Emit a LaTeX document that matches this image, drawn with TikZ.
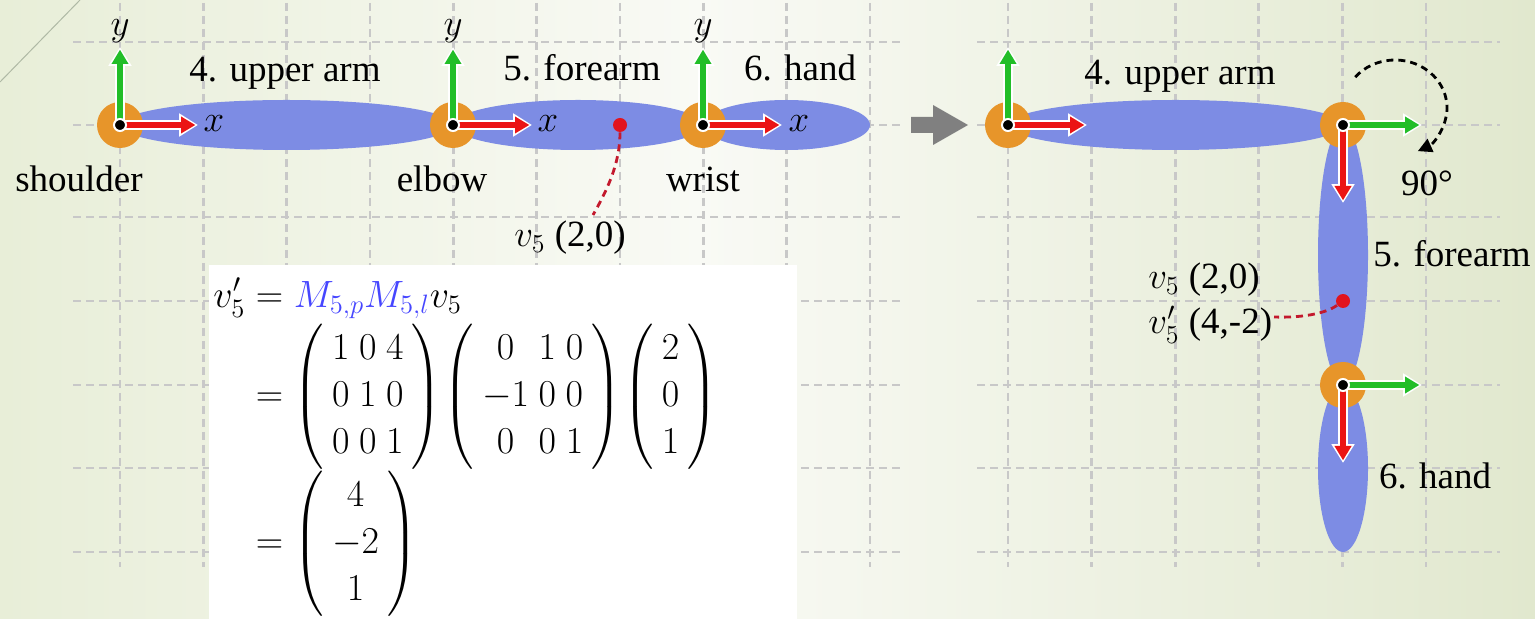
\RequirePackage{fix-cm}
\documentclass[tikz,border=0pt]{standalone}
\usepackage{amsmath}
\usepackage[no-math]{fontspec}
\setmainfont{Liberation Serif}
\usetikzlibrary{arrows.meta,shapes.geometric}
\definecolor{limbcol}{RGB}{125,140,228}
\definecolor{jointcol}{RGB}{231,149,42}
\definecolor{axred}{RGB}{235,20,20}
\definecolor{axgreen}{RGB}{34,190,40}
\definecolor{ptred}{RGB}{225,20,30}
\definecolor{leadred}{RGB}{195,25,45}
\definecolor{gridgray}{RGB}{200,200,200}
\definecolor{mblue}{RGB}{70,70,255}
\definecolor{bgl}{RGB}{232,238,216}
\definecolor{bgm}{RGB}{249,250,245}
\definecolor{bgr}{RGB}{225,232,206}
\definecolor{diag}{RGB}{175,185,165}
\newcommand\axarrow[3]{%
  \draw[line width=4.6pt, white, -{Triangle[length=9.4pt,width=11pt]}] (#2) -- (#3);
  \draw[line width=2.8pt, #1, -{Triangle[length=7.2pt,width=8pt]}, shorten >=1.3pt] (#2) -- (#3);}
\newcommand\pmx[1]{\left(\hspace{4pt}\begin{matrix}#1\end{matrix}\hspace{4pt}\right)}
\tikzset{
  gridline/.style={gridgray, line width=1.4pt, dash pattern=on 4pt off 2.5pt},
  limb/.style={ellipse, fill=limbcol, inner sep=0pt, draw=none},
  jointc/.style={circle, fill=jointcol, minimum size=23pt, inner sep=0pt},
  blackdot/.style={circle, fill=black, draw=white, line width=1pt, minimum size=6pt, inner sep=0pt},
  ptdot/.style={circle, fill=ptred, minimum size=7pt, inner sep=0pt},
  leader/.style={leadred, line width=1.4pt, dash pattern=on 3.5pt off 2.5pt},
  txt/.style={font=\fontsize{18.5}{22}\selectfont, inner sep=0pt},
  rot/.style={black, line width=1.4pt, dash pattern=on 3.5pt off 2.5pt, -{Triangle[length=7pt,width=7pt]}}
}
\begin{document}
\begin{tikzpicture}[x=0.5pt,y=-0.5pt]
\useasboundingbox (0,0) rectangle (1535,619);
% background
\shade[left color=bgl, right color=bgm] (0,0) rectangle (700,619);
\shade[left color=bgm, right color=bgr] (700,0) rectangle (1535,619);
\draw[diag, line width=0.5pt] (0,82) -- (80,0);
% grids
\foreach \i in {0,...,9} \draw[gridline] ({120+83.33*\i},3) -- ({120+83.33*\i},567);
\foreach \y in {42,125,217,301,385,468,552} \draw[gridline] (73,\y) -- (903,\y);
\foreach \i in {0,...,5} \draw[gridline] ({1008+83.6*\i},3) -- ({1008+83.6*\i},567);
\foreach \y in {42,125,217,301,385,468,552} \draw[gridline] (977,\y) -- (1500,\y);
% formula box
\fill[white] (209,265) rectangle (797,619);
% left arm
\node[limb, minimum width=167pt, minimum height=25pt] (ua) at (286.5,125) {};
\node[limb, minimum width=125pt, minimum height=25pt] (fa) at (578,125) {};
\node[limb, minimum width=83.5pt, minimum height=25pt] (hd) at (786.5,125) {};
\node[jointc] (sh) at (120,125) {};
\node[jointc] (el) at (453,125) {};
\node[jointc] (wr) at (703,125) {};
\coordinate (shx) at (198,125); \coordinate (shy) at (120,47);
\coordinate (elx) at (532,125); \coordinate (ely) at (453,47);
\coordinate (wrx) at (782,125); \coordinate (wry) at (703,47);
\axarrow{axgreen}{sh.center}{shy}
\axarrow{axred}{sh.center}{shx}
\axarrow{axgreen}{el.center}{ely}
\axarrow{axred}{el.center}{elx}
\axarrow{axgreen}{wr.center}{wry}
\axarrow{axred}{wr.center}{wrx}
\node[blackdot] (shd) at (sh.center) {};
\node[blackdot] (eld) at (el.center) {};
\node[blackdot] (wrd) at (wr.center) {};
\node[txt] (xl1) at (214,124) {$x$};
\node[txt] (xl2) at (548,124) {$x$};
\node[txt] (xl3) at (799,124) {$x$};
\node[txt] (yl1) at (120,31) {$y$};
\node[txt] (yl2) at (453,31) {$y$};
\node[txt] (yl3) at (703,31) {$y$};
\node[txt, anchor=base] (t1) at (285,82) {4. upper arm};
\node[txt, anchor=base] (t2) at (582,81) {5. forearm};
\node[txt, anchor=base] (t3) at (800,81) {6. hand};
\node[txt, anchor=base] (shl) at (79,192) {shoulder};
\node[txt, anchor=base] (ell) at (442,192) {elbow};
\node[txt, anchor=base] (wrl) at (703,192) {wrist};
\node[ptdot] (v5) at (620,125) {};
\node[txt, anchor=base] (v5lab) at (570,247) {$v_5$ (2,0)};
\coordinate (v5end) at (593,215);
\draw[leader] (v5) .. controls (620,165) and (606,192) .. (v5end);
% transition arrow
\fill[gray] (911,117) -- (933,117) -- (933,105) -- (968,125) -- (933,145) -- (933,133) -- (911,133) -- cycle;
% right arm
\node[limb, minimum width=167.5pt, minimum height=25pt] (ua2) at (1175.5,125) {};
\node[limb, minimum width=25pt, minimum height=130pt] (fa2) at (1343,255) {};
\node[limb, minimum width=25pt, minimum height=83.5pt] (hd2) at (1343,468.5) {};
\node[jointc] (sh2) at (1008,125) {};
\node[jointc] (el2) at (1343,125) {};
\node[jointc] (wr2) at (1343,385) {};
\coordinate (sh2x) at (1087,125); \coordinate (sh2y) at (1008,47);
\coordinate (el2g) at (1422,125); \coordinate (el2r) at (1343,203);
\coordinate (wr2g) at (1422,385); \coordinate (wr2r) at (1343,463);
\axarrow{axgreen}{sh2.center}{sh2y}
\axarrow{axred}{sh2.center}{sh2x}
\axarrow{axgreen}{el2.center}{el2g}
\axarrow{axred}{el2.center}{el2r}
\axarrow{axgreen}{wr2.center}{wr2g}
\axarrow{axred}{wr2.center}{wr2r}
\node[blackdot] (sh2d) at (sh2.center) {};
\node[blackdot] (el2d) at (el2.center) {};
\node[blackdot] (wr2d) at (wr2.center) {};
\node[txt, anchor=base] (t4) at (1180,85) {4. upper arm};
\node[txt, anchor=base] (t5) at (1452,267) {5. forearm};
\node[txt, anchor=base] (t6) at (1435,488) {6. hand};
\node[txt, anchor=base] (deg) at (1427,196) {90°};
\draw[rot] (1395,108) ++(-140:52 and 48) arc[start angle=-140, end angle=64, x radius=52, y radius=48];
\node[ptdot] (v5b) at (1343,301) {};
\node[txt, anchor=base west] (v5lb) at (1148,289) {$v_5$ (2,0)};
\node[txt, anchor=base west] (v5plb) at (1148,334) {$v'_5$ (4,-2)};
\coordinate (v5bend) at (1274,317);
\draw[leader] (v5b) .. controls (1325,314) and (1300,318) .. (v5bend);
% formula
\node[anchor=base west, inner sep=0pt, font=\fontsize{19}{23.5}\selectfont] (eq) at (213,308) {\setlength{\arraycolsep}{2.4pt}\setlength{\jot}{0pt}$\begin{aligned}[t]
v'_5 &= {\color{mblue}M_{5,p}M_{5,l}}v_5\\
&= \pmx{1&0&4\\0&1&0\\0&0&1}\mkern-2mu\pmx{0&1&0\\-1&0&0\\0&0&1}\mkern-2mu\pmx{2\\0\\1}\\
&= \pmx{4\\-2\\1}
\end{aligned}$};
\end{tikzpicture}
\end{document}
